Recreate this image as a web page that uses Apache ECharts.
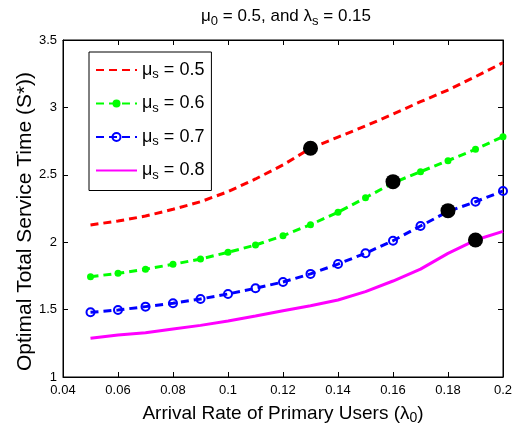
<!DOCTYPE html>
<html>
<head>
<meta charset="utf-8">
<script src="https://cdn.jsdelivr.net/npm/echarts@6/dist/echarts.min.js"></script>
<style>
html,body{margin:0;padding:0;background:#fff;}
#chart{width:519px;height:431px;}
</style>
</head>
<body>
<div id="chart"></div>
<script>
const xValues = [0.05,0.06,0.07,0.08,0.09,0.10,0.11,0.12,0.13,0.14,0.15,0.16,0.17,0.18,0.19,0.20];
const seriesNames = ['0.5','0.6','0.7','0.8'];
const mu05 = [2.128,2.157,2.194,2.244,2.300,2.375,2.469,2.573,2.697,2.780,2.862,2.951,3.042,3.129,3.228,3.332];
const mu06 = [1.744,1.769,1.800,1.836,1.875,1.925,1.979,2.048,2.130,2.222,2.330,2.440,2.523,2.605,2.689,2.783];
const mu07 = [1.480,1.497,1.522,1.547,1.579,1.616,1.658,1.705,1.765,1.838,1.918,2.011,2.120,2.228,2.300,2.380];
const mu08 = [1.287,1.312,1.329,1.356,1.383,1.415,1.452,1.492,1.529,1.571,1.633,1.712,1.800,1.917,2.016,2.080];
const optX = [0.13,0.16,0.18,0.19];
const optY = [2.697,2.449,2.234,2.016];
const xTicks = {min:0.04, max:0.2, interval:0.02};
const yTicks = {min:1, max:3.5, interval:0.5};

function pairs(xs, ys){ return xs.map((x,i)=>[x, ys[i]]); }

const font = 'Liberation Sans, Arial, Helvetica, sans-serif';
const chart = echarts.init(document.getElementById('chart'), null, {renderer:'canvas'});

const axisCommon = {
  type:'value',
  axisLine:{show:true, lineStyle:{color:'#000', width:1}},
  axisTick:{show:true, inside:true, length:5, lineStyle:{color:'#000'}},
  splitLine:{show:false},
  axisLabel:{color:'#000', fontFamily:font, fontSize:13}
};

const option = {
  animation:false,
  backgroundColor:'#fff',
  title:{
    text:'{a|μ}{b|0}{a| = 0.5, and λ}{b|s}{a| = 0.15}',
    left:281, top:1, textAlign:'center',
    textStyle:{
      fontWeight:'normal',
      rich:{
        a:{fontFamily:font, fontSize:17, fontWeight:'normal', color:'#000', lineHeight:21},
        b:{fontFamily:font, fontSize:13, fontWeight:'normal', color:'#000', padding:[9,0,0,0], lineHeight:21}
      }
    }
  },
  grid:{left:63, right:16, top:40, bottom:54, show:true, borderColor:'#000', borderWidth:1, backgroundColor:'transparent'},
  xAxis:[
    Object.assign({}, axisCommon, {
      position:'bottom', min:xTicks.min, max:xTicks.max, interval:xTicks.interval,
      axisLabel:{color:'#000', fontFamily:font, fontSize:13, margin:7},
      name:'{t|Arrival Rate of Primary Users (λ}{s|0}{t|)}',
      nameLocation:'middle', nameGap:25, nameMoveOverlap:false,
      nameTextStyle:{rich:{
        t:{fontFamily:font, fontSize:19, color:'#000', lineHeight:23},
        s:{fontFamily:font, fontSize:14, color:'#000', padding:[10,0,0,0], lineHeight:23}
      }}
    }),
    Object.assign({}, axisCommon, {
      position:'top', min:xTicks.min, max:xTicks.max, interval:xTicks.interval,
      axisLabel:{show:false}
    })
  ],
  yAxis:[
    Object.assign({}, axisCommon, {
      position:'left', min:yTicks.min, max:yTicks.max, interval:yTicks.interval,
      axisLabel:{color:'#000', fontFamily:font, fontSize:13, margin:6},
      name:'Optimal Total Service Time (S*))',
      nameLocation:'middle', nameGap:27, nameMoveOverlap:false,
      nameTextStyle:{fontFamily:font, fontSize:21, color:'#000', padding:[0,26,0,0]}
    }),
    Object.assign({}, axisCommon, {
      position:'right', min:yTicks.min, max:yTicks.max, interval:yTicks.interval,
      axisLabel:{show:false}
    })
  ],
  legend:{
    orient:'vertical', left:89, top:52,
    data:[
      {name:'μs = '+seriesNames[0], itemStyle:{opacity:0}},
      {name:'μs = '+seriesNames[1]},
      {name:'μs = '+seriesNames[2]},
      {name:'μs = '+seriesNames[3], itemStyle:{opacity:0}}
    ],
    itemWidth:41, itemHeight:10, itemGap:11.5,
    padding:[7,7,9,6],
    borderColor:'#000', borderWidth:1, backgroundColor:'#fff',
    formatter:function(name){ return '{m|μ}{s|s}{m|' + name.slice(2) + '}'; },
    textStyle:{
      rich:{
        m:{fontFamily:font, fontSize:18, color:'#000', lineHeight:20},
        s:{fontFamily:font, fontSize:13, color:'#000', padding:[9,0,0,0], lineHeight:20}
      }
    }
  },
  series:[
    {
      name:'μs = '+seriesNames[0], type:'line', data:pairs(xValues, mu05),
      symbol:'none', smooth:false,
      lineStyle:{color:'#ff0000', width:3, type:[8,5]},
      itemStyle:{color:'#ff0000'}
    },
    {
      name:'μs = '+seriesNames[1], type:'line', data:pairs(xValues, mu06),
      symbol:'circle', symbolSize:7,
      lineStyle:{color:'#00ff00', width:3, type:[8,5]},
      itemStyle:{color:'#00ff00'}
    },
    {
      name:'μs = '+seriesNames[2], type:'line', data:pairs(xValues, mu07),
      symbol:'circle', symbolSize:8,
      lineStyle:{color:'#0000ff', width:3, type:[8,5]},
      itemStyle:{color:'rgba(255,255,255,0)', borderColor:'#0000ff', borderWidth:2}
    },
    {
      name:'μs = '+seriesNames[3], type:'line', data:pairs(xValues, mu08),
      symbol:'none',
      lineStyle:{color:'#ff00ff', width:3, type:'solid'},
      itemStyle:{color:'#ff00ff'}
    },
    {
      name:'optimal', type:'scatter', data:pairs(optX, optY),
      symbol:'circle', symbolSize:15, z:10,
      itemStyle:{color:'#000', opacity:1}
    }
  ]
};
chart.setOption(option);
</script>
</body>
</html>
